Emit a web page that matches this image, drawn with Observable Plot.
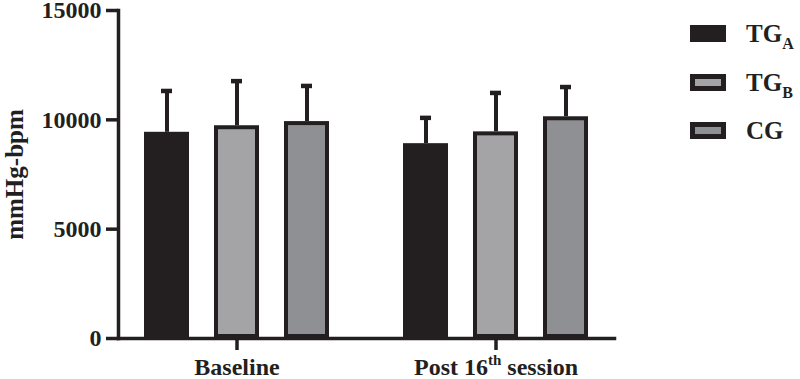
<!DOCTYPE html>
<html><head><meta charset="utf-8">
<script src="https://cdn.jsdelivr.net/npm/d3@7"></script>
<script src="https://cdn.jsdelivr.net/npm/@observablehq/plot@0.6"></script>
<style>
body{margin:0;background:#fff;}
#wrap{position:relative;width:800px;height:379px;overflow:hidden;}
#wrap svg text{font-size:24px;font-family:"Liberation Serif",serif;font-weight:bold;}
#wrap svg text.ylab{font-size:25px;}
.item{position:absolute;left:690px;display:flex;align-items:center;font-family:"Liberation Serif",serif;font-weight:bold;font-size:25px;color:#231f20;line-height:1;}
.sw{display:inline-block;width:36px;height:17px;box-sizing:border-box;margin-right:20px;}
.sub{font-size:16px;position:relative;top:7px;}
</style></head><body><div id="wrap"></div>
<script>
const groups = ["Baseline", "Post 16th session"];
const series = ["TGA", "TGB", "CG"];
const seriesLabels = ["TG<span class='sub'>A</span>", "TG<span class='sub'>B</span>", "CG"];
const baselineMeans = [9430, 9730, 9920];
const baselineSD = [1890, 2040, 1630];
const postMeans = [8910, 9450, 10140];
const postSD = [1180, 1780, 1360];
const yTicks = [0, 5000, 10000, 15000];
const colors = ["#231f20", "#a4a4a7", "#8f9093"];

const meansByGroup = [baselineMeans, postMeans];
const sdByGroup = [baselineSD, postSD];
const data = groups.flatMap((g, i) => series.map((s, j) => ({
  group: g, series: s, mean: meansByGroup[i][j], sd: sdByGroup[i][j]
})));

const ink = "#231f20";
const plot = Plot.plot({
  width: 800, height: 379,
  marginLeft: 117, marginRight: 185, marginTop: 10, marginBottom: 41,
  style: {fontFamily: "Liberation Serif", fontWeight: "bold", fontSize: "24px", color: ink, background: "#fff"},
  fx: {domain: groups, paddingInner: 0.0846, paddingOuter: 0, label: null},
  x: {domain: series, padding: 0.352, axis: null},
  y: {domain: [0, 15000]},
  color: {domain: series, range: colors},
  marks: [
    Plot.frame({anchor: "left", facet: "super", stroke: ink, strokeWidth: 3.5}),
    Plot.frame({anchor: "bottom", facet: "super", stroke: ink, strokeWidth: 3.5}),
    Plot.axisY({ticks: yTicks, tickSize: 12, tickPadding: 5, tickFormat: d3.format("d"), stroke: ink, strokeWidth: 3.5,
      label: "mmHg-bpm", labelAnchor: "center", labelArrow: "none", labelOffset: 113}),
    Plot.axisFx({anchor: "bottom", tickSize: 12, tickPadding: 7, stroke: ink, strokeWidth: 3.5, label: null}),
    Plot.ruleX(data, {fx: "group", x: "series", y1: "mean", y2: d => d.mean + d.sd, stroke: ink, strokeWidth: 4}),
    Plot.tickY(data, {fx: "group", x: "series", y: d => d.mean + d.sd, stroke: ink, strokeWidth: 4.5, insetLeft: 17, insetRight: 17}),
    Plot.barY(data, {fx: "group", x: "series", y: "mean", fill: "series", stroke: ink, strokeWidth: 4, inset: 2})
  ]
});

d3.select(plot).selectAll("text").each(function() {
  const t = d3.select(this);
  const s = t.text();
  if (s === "mmHg-bpm") t.classed("ylab", true);
  if (s === "Post 16th session") {
    t.text(null);
    t.append("tspan").text("Post 16");
    t.append("tspan").attr("dy", "-10").attr("style", "font-size:15px").text("th");
    t.append("tspan").attr("dy", "10").text(" session");
  }
});

const wrap = document.getElementById("wrap");
wrap.appendChild(plot);
const tops = [24, 73, 121];
series.forEach((s, i) => {
  const div = document.createElement("div");
  div.className = "item";
  div.style.top = (tops[i] - 3) + "px";
  const sw = i === 0 ? `background:${colors[0]}` : `background:${colors[i]};border:5px solid ${ink}`;
  div.innerHTML = `<span class="sw" style="${sw}"></span><span>${seriesLabels[i]}</span>`;
  wrap.appendChild(div);
});
</script></body></html>
